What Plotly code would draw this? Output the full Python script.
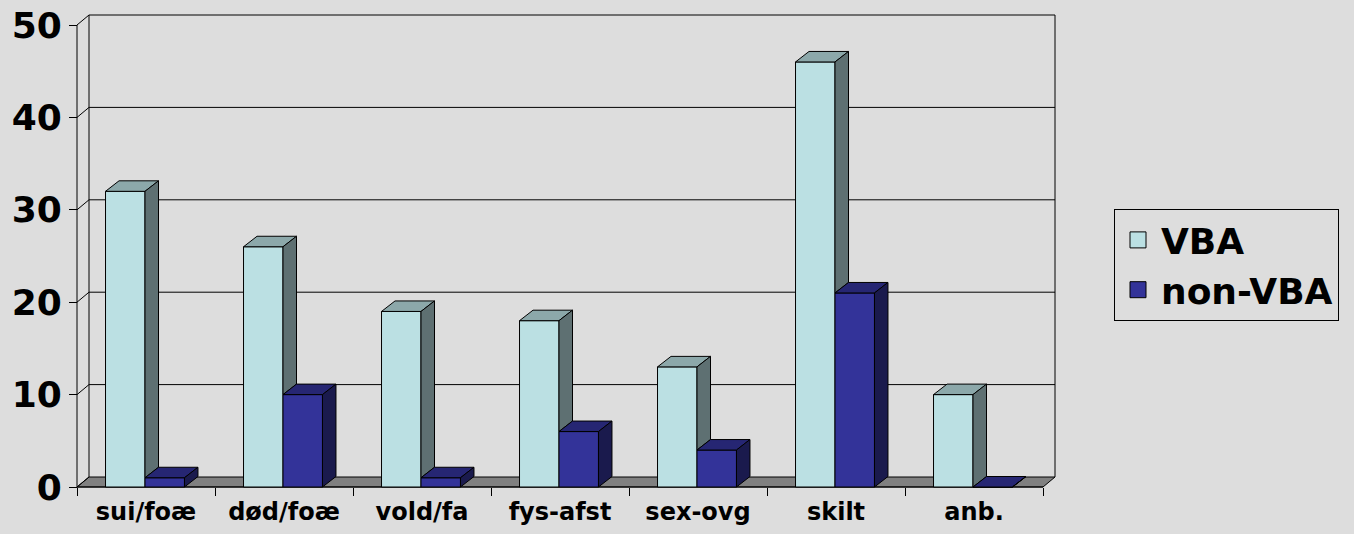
import plotly.graph_objects as go

# ---------------- data ----------------
categories = ["sui/foæ", "død/foæ", "vold/fa", "fys-afst", "sex-ovg", "skilt", "anb."]
vba = [32, 26, 19, 18, 13, 46, 10]
non_vba = [1, 10, 1, 6, 4, 21, 0]
y_ticks = [0, 10, 20, 30, 40, 50]
series_names = ["VBA", "non-VBA"]

# ---------------- style / geometry ----------------
W, H = 1354, 534
BG = "#DDDDDD"
FLOOR = "#808080"
COL = {"VBA": ("#BBE0E3", "#8CA8AA", "#5E7072"),
       "non-VBA": ("#333399", "#262673", "#1A1A4D")}
FONT = "DejaVu Sans"

PX_X0, PX_XN = 77, 1043      # pixel of category-axis start / end (front)
PX_Y0, PX_YM = 487, 25       # pixel of value 0 / value 50 (front)
plot_l, plot_r, plot_t, plot_b = 70, 1064, 6, 497
ncat = len(categories)
ymax = y_ticks[-1]
ux = (PX_XN - PX_X0) / ncat
uy = (PX_Y0 - PX_YM) / ymax
x_range = [(plot_l - PX_X0) / ux, ncat + (plot_r - PX_XN) / ux]
y_range = [-(plot_b - PX_Y0) / uy, ymax + (PX_YM - plot_t) / uy]

WDX, WDY = 12 / ux, 10 / uy        # wall depth offset (data units)
BDX, BDY = 13.5 / ux, 10.5 / uy    # bar depth offset
BW = 0.286                          # bar width (category units)
BSHIFT = -1 / ux                    # small shift of bar groups

fig = go.Figure()

centers = [i + 0.5 + BSHIFT for i in range(ncat)]
# front faces as real bars
fig.add_trace(go.Bar(x=centers, y=vba, offset=-BW, width=BW,
                     marker=dict(color=COL["VBA"][0], line=dict(color="black", width=1)),
                     showlegend=False, hoverinfo="skip"))
fig.add_trace(go.Bar(x=centers, y=non_vba, offset=0, width=BW,
                     marker=dict(color=COL["non-VBA"][0], line=dict(color="black", width=1)),
                     showlegend=False, hoverinfo="skip"))


def poly_trace(polys, color):
    xs, ys = [], []
    for p in polys:
        for (a, b) in p:
            xs.append(a)
            ys.append(b)
        xs.append(p[0][0]); ys.append(p[0][1])
        xs.append(None); ys.append(None)
    return go.Scatter(x=xs, y=ys, mode="lines", fill="toself", fillcolor=color,
                      line=dict(color="black", width=1), showlegend=False,
                      hoverinfo="skip", connectgaps=False)


tops1, sides1, tops2, sides2 = [], [], [], []
for i in range(ncat):
    c = centers[i]
    h1, h2 = vba[i], non_vba[i]
    l1, r1 = c - BW, c
    l2, r2 = c, c + BW
    tops1.append([(l1, h1), (r1, h1), (r1 + BDX, h1 + BDY), (l1 + BDX, h1 + BDY)])
    lo = min(max(h2, 0), h1)
    sides1.append([(r1, lo), (r1, h1), (r1 + BDX, h1 + BDY), (r1 + BDX, lo + BDY)])
    tops2.append([(l2, h2), (r2, h2), (r2 + BDX, h2 + BDY), (l2 + BDX, h2 + BDY)])
    sides2.append([(r2, 0), (r2, h2), (r2 + BDX, h2 + BDY), (r2 + BDX, BDY)])

fig.add_trace(poly_trace(tops1, COL["VBA"][1]))
fig.add_trace(poly_trace(sides1, COL["VBA"][2]))
fig.add_trace(poly_trace(tops2, COL["non-VBA"][1]))
fig.add_trace(poly_trace(sides2, COL["non-VBA"][2]))

# legend proxies
for name in series_names:
    fig.add_trace(go.Scatter(x=[None], y=[None], mode="markers", name=name,
                             marker=dict(symbol="square", size=16, color=COL[name][0],
                                         line=dict(color="black", width=1))))

# floor, walls, gridlines (behind the bars)
shapes = []
line_k = dict(color="black", width=1)
shapes.append(dict(type="path", layer="below", xref="x", yref="y",
                   path=f"M0,0 L{ncat},0 L{ncat + WDX},{WDY} L{WDX},{WDY} Z",
                   fillcolor=FLOOR, line=line_k))
shapes.append(dict(type="line", layer="below", xref="x", yref="y",
                   x0=WDX, y0=WDY, x1=WDX, y1=ymax + WDY, line=line_k))
shapes.append(dict(type="line", layer="below", xref="x", yref="y",
                   x0=ncat + WDX, y0=WDY, x1=ncat + WDX, y1=ymax + WDY, line=line_k))
for v in y_ticks[1:]:
    shapes.append(dict(type="line", layer="below", xref="x", yref="y",
                       x0=WDX, y0=v + WDY, x1=ncat + WDX, y1=v + WDY, line=line_k))
for v in y_ticks:
    shapes.append(dict(type="line", layer="below", xref="x", yref="y",
                       x0=0, y0=v, x1=WDX, y1=v + WDY, line=line_k))
shapes.append(dict(type="line", layer="below", xref="x", yref="y",
                   x0=0, y0=0, x1=0, y1=ymax, line=line_k))
shapes.append(dict(type="line", layer="below", xref="x", yref="y",
                   x0=0, y0=0, x1=ncat, y1=0, line=line_k))

fig.update_layout(
    width=W, height=H,
    paper_bgcolor=BG, plot_bgcolor=BG,
    margin=dict(l=plot_l, r=W - plot_r, t=plot_t, b=H - plot_b, autoexpand=False),
    barmode="overlay",
    shapes=shapes,
    showlegend=True,
    legend=dict(xref="container", yref="container", x=1114 / W, y=1 - 265 / H,
                xanchor="left", yanchor="middle",
                font=dict(family=FONT, size=36, color="black", weight="bold"),
                bgcolor="rgba(0,0,0,0)", bordercolor="black", borderwidth=1,
                itemsizing="trace", itemwidth=36),
    xaxis=dict(range=x_range, showgrid=False, zeroline=False, showline=False,
               tickmode="array", tickvals=[i + 0.5 for i in range(ncat)], ticktext=categories,
               ticks="", anchor="free", position=(plot_b - PX_Y0) / (plot_b - plot_t),
               minor=dict(tickmode="array", tickvals=list(range(ncat + 1)), ticks="outside",
                          ticklen=8, tickcolor="black", tickwidth=1, showgrid=False),
               tickfont=dict(family=FONT, size=24, color="black", weight="bold"),
               ticklabelstandoff=8, fixedrange=True),
    yaxis=dict(range=y_range, showgrid=False, zeroline=False, showline=False,
               tickmode="array", tickvals=y_ticks, ticks="outside", ticklen=8,
               tickcolor="black", tickwidth=1,
               anchor="free", position=(PX_X0 - plot_l) / (plot_r - plot_l),
               tickfont=dict(family=FONT, size=36, color="black", weight="bold"),
               ticklabelstandoff=0, fixedrange=True),
)

fig.write_html("out.html", config={"displayModeBar": False},
               post_script="document.body.style.margin='0';document.body.style.background='#DDDDDD';")
